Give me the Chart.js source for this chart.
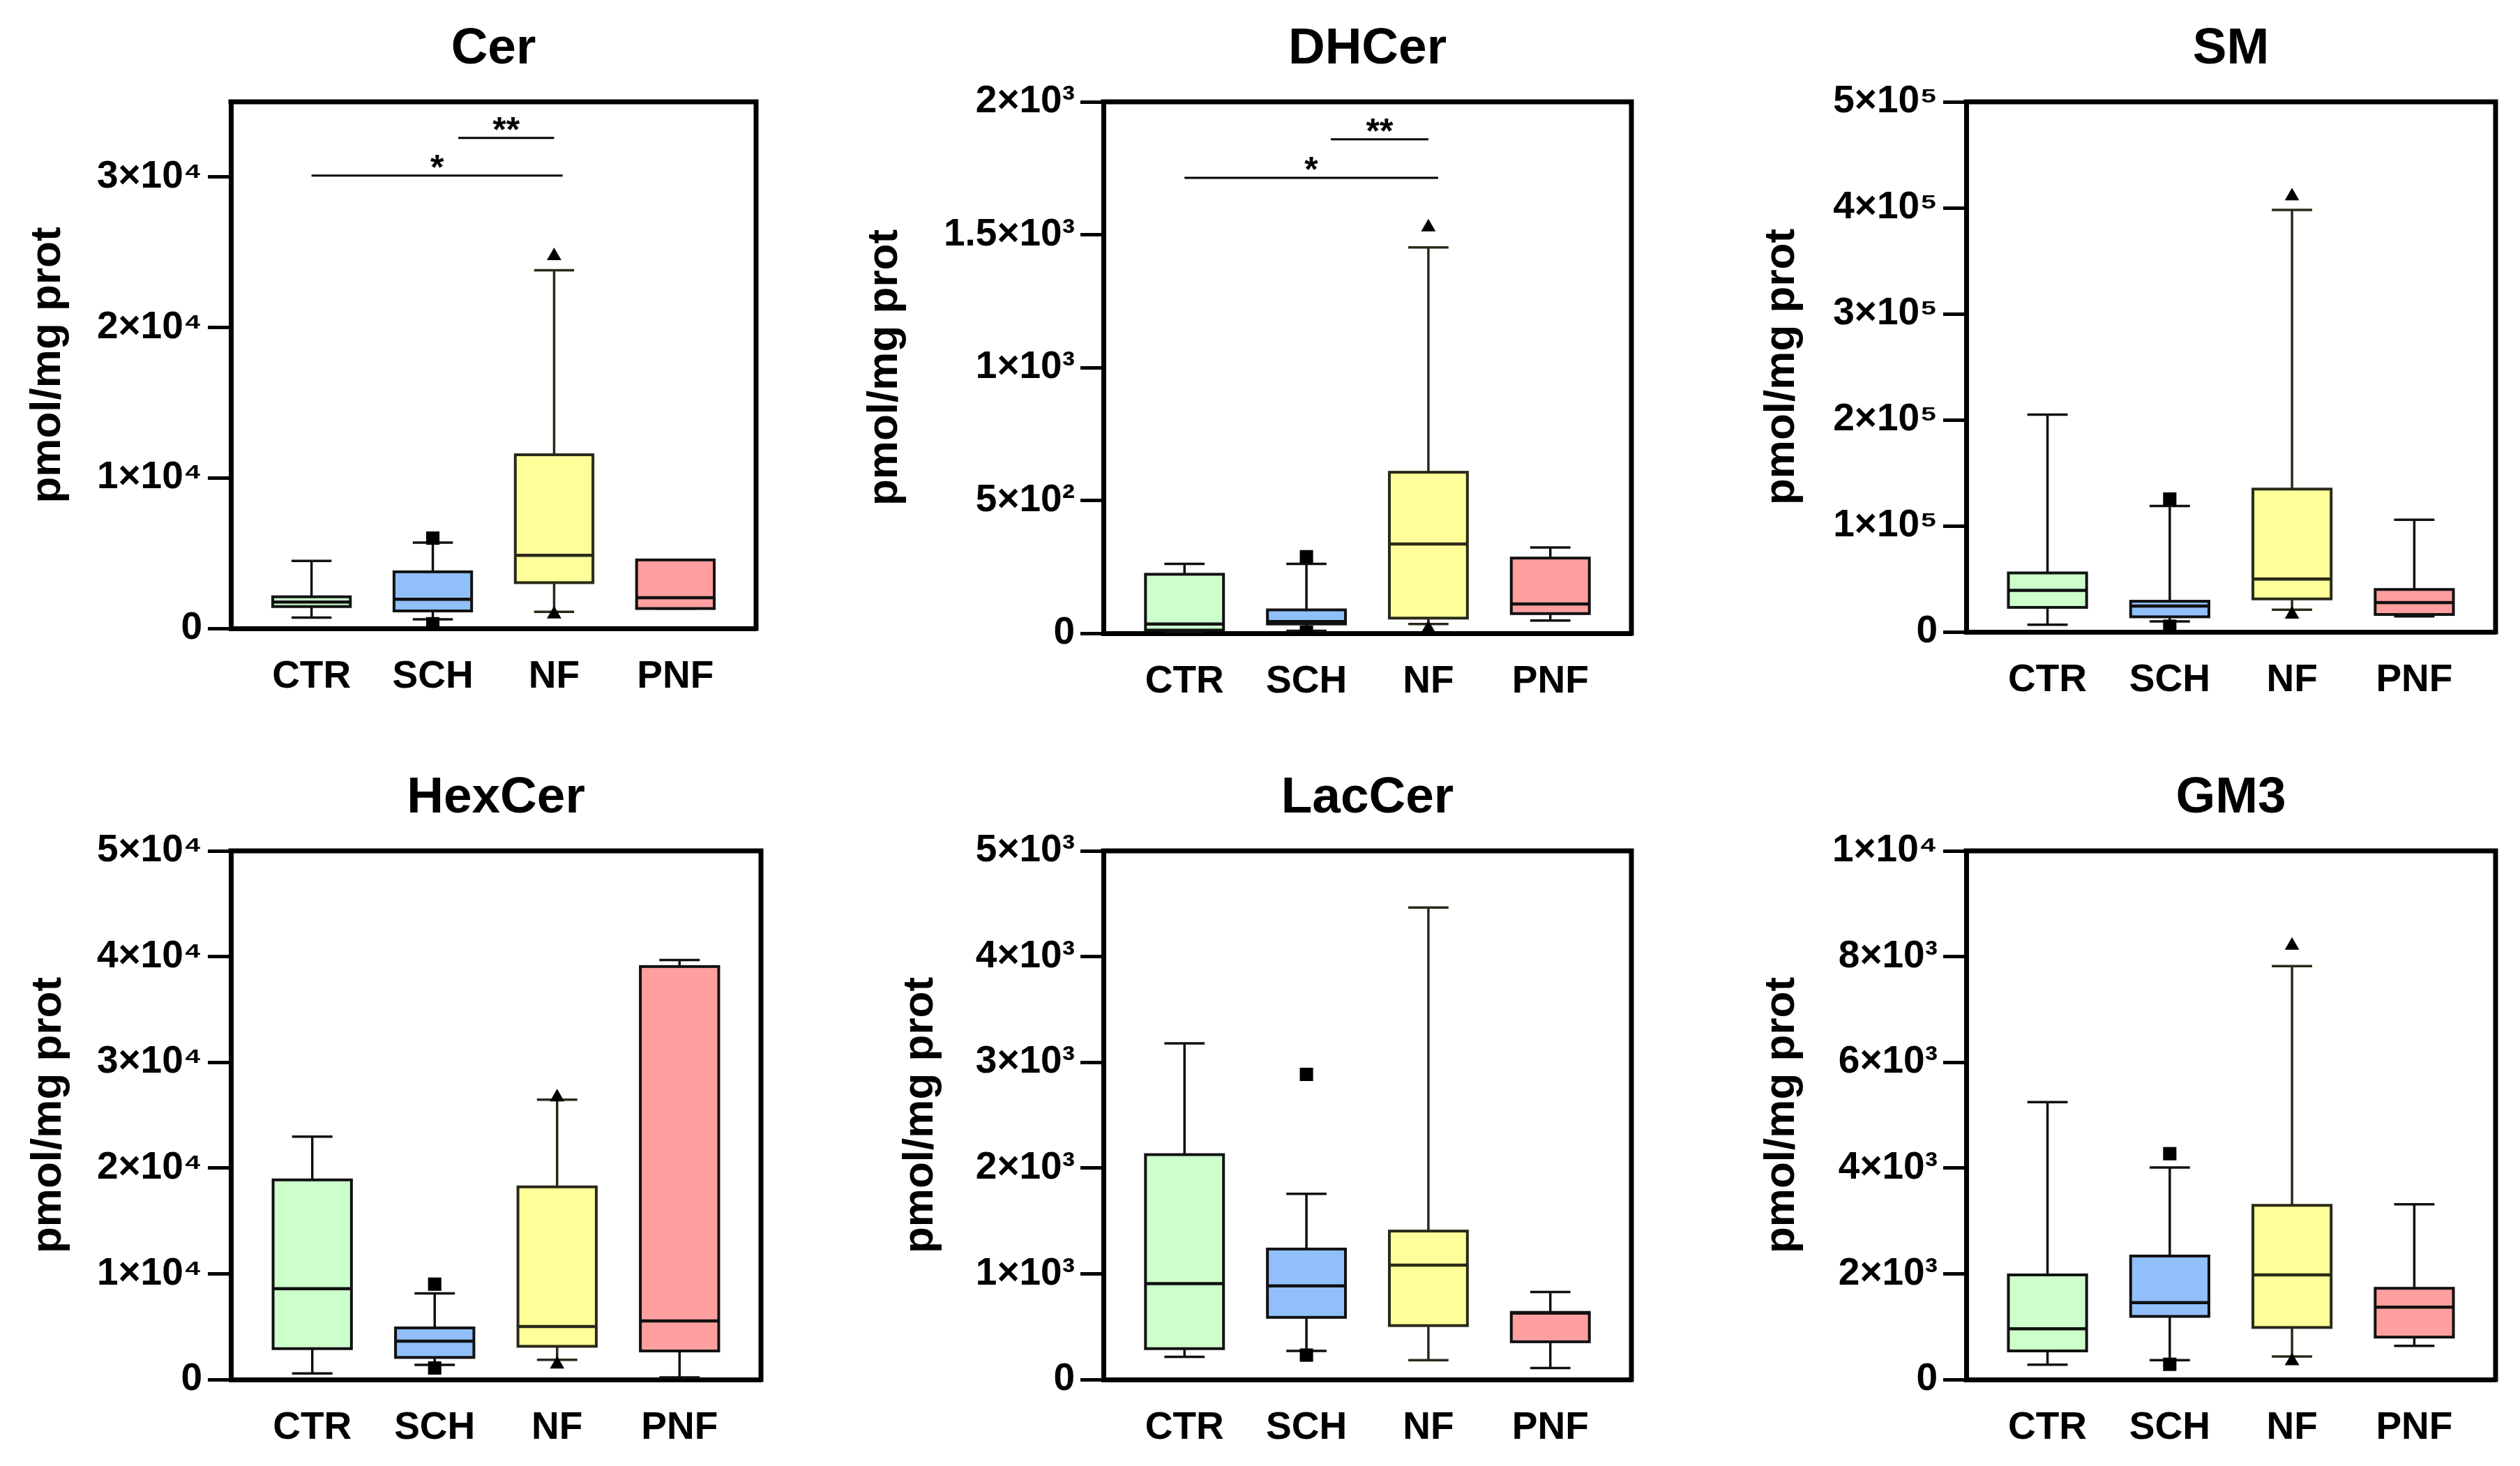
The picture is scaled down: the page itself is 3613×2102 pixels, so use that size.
<!DOCTYPE html>
<html>
<head>
<meta charset="utf-8">
<script src="https://cdn.jsdelivr.net/npm/chart.js@4.4.0/dist/chart.umd.min.js"></script>
<style>
  html, body { margin: 0; padding: 0; background: #fff; width: 3613px; height: 2102px; overflow: hidden; }
  canvas { position: absolute; }
</style>
</head>
<body>
<canvas id="cer"></canvas>
<canvas id="dhcer"></canvas>
<canvas id="sm"></canvas>
<canvas id="hexcer"></canvas>
<canvas id="laccer"></canvas>
<canvas id="gm3"></canvas>
<script>
const groups = ["CTR", "SCH", "NF", "PNF"];

// each row: [min, q1, median, q3, max]
const cerStats = [[720, 1450, 1750, 2100, 4480], [600, 1160, 1940, 3760, 5700], [1100, 3040, 4860, 11540, 23800], [1320, 1320, 2040, 4550, 4550]];
const cerSquares = [6000, 310];
const cerTriangles = [24760, 940];
const cerTicks = [0, 10000, 20000, 30000];
const cerTickLabels = ["0", "1×10⁴", "2×10⁴", "3×10⁴"];
const cerSig = [[0, 2.07, 30100, "*"], [1.21, 2.0, 32600, "**"]];

const dhcerStats = [[5, 12, 35, 222, 261], [9, 35, 44, 88, 261], [35, 57, 336, 606, 1452], [48, 74, 110, 283, 323]];
const dhcerSquares = [288, 4];
const dhcerTriangles = [1528, 18];
const dhcerTicks = [0, 500, 1000, 1500, 2000];
const dhcerTickLabels = ["0", "5×10²", "1×10³", "1.5×10³", "2×10³"];
const dhcerSig = [[0, 2.08, 1714, "*"], [1.2, 2.0, 1859, "**"]];

const smStats = [[6700, 23100, 39100, 55600, 204900], [9800, 14200, 24400, 28900, 118700], [20900, 31100, 49800, 134700, 398000], [14700, 16400, 27600, 40000, 105800]];
const smSquares = [125300, 5300];
const smTriangles = [411000, 16400];
const smTicks = [0, 100000, 200000, 300000, 400000, 500000];
const smTickLabels = ["0", "1×10⁵", "2×10⁵", "3×10⁵", "4×10⁵", "5×10⁵"];

const hexcerStats = [[570, 2920, 8590, 18880, 22970], [1390, 2090, 3620, 4880, 8150], [1870, 3140, 5010, 18220, 26460], [200, 2700, 5540, 39060, 39670]];
const hexcerSquares = [9020, 1090];
const hexcerTriangles = [26700, 1440];
const hexcerTicks = [0, 10000, 20000, 30000, 40000, 50000];
const hexcerTickLabels = ["0", "1×10⁴", "2×10⁴", "3×10⁴", "4×10⁴", "5×10⁴"];

const laccerStats = [[214, 292, 907, 2127, 3180], [270, 588, 885, 1234, 1757], [183, 510, 1081, 1404, 4464], [109, 357, 628, 635, 828]];
const laccerSquares = [2886, 231];
const laccerTriangles = [];
const laccerTicks = [0, 1000, 2000, 3000, 4000, 5000];
const laccerTickLabels = ["0", "1×10³", "2×10³", "3×10³", "4×10³", "5×10³"];

const gm3Stats = [[279, 541, 959, 1979, 5248], [366, 1194, 1456, 2336, 4011], [436, 985, 1979, 3295, 7820], [636, 802, 1369, 1726, 3313]];
const gm3Squares = [4272, 288];
const gm3Triangles = [8210, 349];
const gm3Ticks = [0, 2000, 4000, 6000, 8000, 10000];
const gm3TickLabels = ["0", "2×10³", "4×10³", "6×10³", "8×10³", "1×10⁴"];

const FONT = '"Liberation Sans", Arial, sans-serif';
const fills = ["#ccffcc", "#91bffa", "#ffff99", "#ff9f9f"];
const edges = ["#111", "#111", "#2a2a1a", "#111"];
const MARGIN = 380;

Chart.defaults.font.family = FONT;
Chart.defaults.color = "#000";

function makePanel(p) {
  const cv = document.getElementById(p.id);
  const W = MARGIN + p.w + 14;
  const H = 146 + p.h + 130;
  cv.width = W; cv.height = H;
  cv.style.width = W + "px"; cv.style.height = H + "px";
  cv.style.left = (p.left - MARGIN) + "px";
  cv.style.top = (p.top - 146) + "px";

  const boxes = {
    id: "boxes",
    beforeDatasetsDraw(chart) {
      const { ctx, scales: { x, y } } = chart;
      p.stats.forEach((s, i) => {
        const cx = x.getPixelForValue(i);
        const hw = x.getPixelForValue(i + 0.32) - cx;
        const cw = x.getPixelForValue(i + 0.165) - cx;
        const [mn, q1, md, q3, mx] = s.map(v => y.getPixelForValue(v));
        ctx.save();
        ctx.strokeStyle = edges[i];
        ctx.lineWidth = 3.5;
        ctx.beginPath();
        ctx.moveTo(cx, q1); ctx.lineTo(cx, mn);
        ctx.moveTo(cx - cw, mn); ctx.lineTo(cx + cw, mn);
        ctx.moveTo(cx, q3); ctx.lineTo(cx, mx);
        ctx.moveTo(cx - cw, mx); ctx.lineTo(cx + cw, mx);
        ctx.stroke();
        ctx.fillStyle = fills[i];
        ctx.fillRect(cx - hw, q3, 2 * hw, q1 - q3);
        ctx.lineWidth = 4;
        ctx.strokeRect(cx - hw, q3, 2 * hw, q1 - q3);
        ctx.lineWidth = 4.5;
        ctx.beginPath();
        ctx.moveTo(cx - hw, md); ctx.lineTo(cx + hw, md);
        ctx.stroke();
        ctx.restore();
      });
    },
    afterDraw(chart) {
      const { ctx, chartArea: a, scales: { x, y } } = chart;
      ctx.save();
      ctx.strokeStyle = "#000";
      ctx.lineWidth = 7;
      ctx.beginPath();
      ctx.moveTo(a.left - 3.5, a.top);
      ctx.lineTo(a.right, a.top);
      ctx.lineTo(a.right, a.bottom + 3.5);
      ctx.stroke();
      (p.sig || []).forEach(([from, to, v, label]) => {
        const py = y.getPixelForValue(v);
        ctx.lineWidth = 3;
        ctx.beginPath();
        ctx.moveTo(x.getPixelForValue(from), py);
        ctx.lineTo(x.getPixelForValue(to), py);
        ctx.stroke();
        ctx.fillStyle = "#000";
        ctx.font = "bold 50px " + FONT;
        ctx.textAlign = "center";
        ctx.textBaseline = "alphabetic";
        ctx.fillText(label, x.getPixelForValue((from + to) / 2), py + 5);
      });
      ctx.restore();
    }
  };

  new Chart(cv, {
    type: "scatter",
    data: {
      datasets: [
        { data: p.squares.map(v => ({ x: 1, y: v })), pointStyle: "rect", pointRadius: 13.5, backgroundColor: "#000", borderColor: "#000", borderWidth: 0 },
        { data: p.triangles.map(v => ({ x: 2, y: v })), pointStyle: "triangle", pointRadius: 12, backgroundColor: "#000", borderColor: "#000", borderWidth: 0 }
      ]
    },
    options: {
      responsive: false,
      animation: false,
      devicePixelRatio: 1,
      layout: { padding: { left: 0, right: 14, top: 0, bottom: 0 } },
      plugins: {
        legend: { display: false },
        tooltip: { enabled: false },
        title: {
          display: true, text: p.title, fullSize: false, color: "#000",
          font: { family: FONT, size: 73, weight: "bold" },
          padding: { top: 27, bottom: 31.4 }
        }
      },
      scales: {
        x: {
          type: "linear", min: -0.665, max: 3.665,
          afterBuildTicks: s => { s.ticks = groups.map((g, i) => ({ value: i })); },
          afterFit: s => { s.height = 130; },
          grid: { display: false },
          border: { display: true, color: "#000", width: 7 },
          ticks: { autoSkip: false, maxRotation: 0, padding: 29, color: "#000", font: { size: 55, weight: "bold" }, callback: v => groups[v] }
        },
        y: {
          min: 0, max: p.max,
          afterBuildTicks: s => { s.ticks = p.ticks.map(v => ({ value: v })); },
          afterFit: s => { s.width = MARGIN; },
          grid: { display: true, drawOnChartArea: false, drawTicks: true, tickLength: 33, tickWidth: 5, tickColor: "#000" },
          border: { display: true, color: "#000", width: 7 },
          ticks: { padding: 8, color: "#000", font: { size: 55, weight: "bold" }, callback: (v, i) => p.labels[i] },
          title: {
            display: true, text: "pmol/mg prot", color: "#000",
            font: { size: 62, weight: "bold" },
            padding: { top: MARGIN - p.yTitleOff - 37.2, bottom: 0 }
          }
        }
      }
    },
    plugins: [boxes]
  });
}

makePanel({ id: "cer", title: "Cer", stats: cerStats, squares: cerSquares, triangles: cerTriangles, ticks: cerTicks, labels: cerTickLabels, max: 35000, sig: cerSig, left: 331, top: 146, w: 753, h: 755, yTitleOff: 262 });
makePanel({ id: "dhcer", title: "DHCer", stats: dhcerStats, squares: dhcerSquares, triangles: dhcerTriangles, ticks: dhcerTicks, labels: dhcerTickLabels, max: 2000, sig: dhcerSig, left: 1582, top: 146, w: 757, h: 762, yTitleOff: 313 });
makePanel({ id: "sm", title: "SM", stats: smStats, squares: smSquares, triangles: smTriangles, ticks: smTicks, labels: smTickLabels, max: 500000, left: 2819, top: 146, w: 759, h: 760, yTitleOff: 264 });
makePanel({ id: "hexcer", title: "HexCer", stats: hexcerStats, squares: hexcerSquares, triangles: hexcerTriangles, ticks: hexcerTicks, labels: hexcerTickLabels, max: 50000, left: 331, top: 1220, w: 760, h: 758, yTitleOff: 261 });
makePanel({ id: "laccer", title: "LacCer", stats: laccerStats, squares: laccerSquares, triangles: laccerTriangles, ticks: laccerTicks, labels: laccerTickLabels, max: 5000, left: 1582, top: 1220, w: 757, h: 758, yTitleOff: 262 });
makePanel({ id: "gm3", title: "GM3", stats: gm3Stats, squares: gm3Squares, triangles: gm3Triangles, ticks: gm3Ticks, labels: gm3TickLabels, max: 10000, left: 2819, top: 1220, w: 759, h: 758, yTitleOff: 264 });
</script>
</body>
</html>
